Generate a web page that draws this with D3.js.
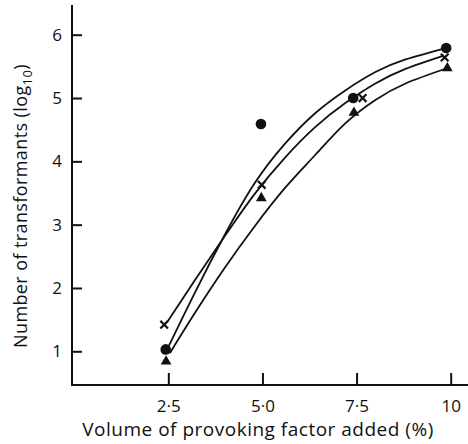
<!DOCTYPE html>
<html>
<head>
<meta charset="utf-8">
<script src="https://cdn.jsdelivr.net/npm/d3@7"></script>
<style>
  body { margin: 0; background: #fff; }
  svg { display: block; }
  text { font-family: "Open Sans", Lato, sans-serif; fill: #111; }
</style>
</head>
<body>
<div id="chart"></div>
<script>
var width = 468, height = 444;

/* x ticks and their printed labels */
var xTicks = [2.5, 5, 7.5, 10];
var xTickLabels = ["2·5", "5·0", "7·5", "10"];
var yTicks = [1, 2, 3, 4, 5, 6];

/* measured points */
var circleX = [2.43, 4.96, 7.41, 9.88];
var circleY = [1.03, 4.59, 5.0, 5.79];
var crossX = [2.39, 4.98, 7.66, 9.84];
var crossY = [1.42, 3.63, 5.0, 5.64];
var triX = [2.44, 4.97, 7.43, 9.91];
var triY = [0.84, 3.42, 4.77, 5.47];

/* fitted curves */
var circleFitX = [2.46, 3.2, 4.0, 4.8, 5.6, 6.4, 7.2, 8.0, 8.8, 9.88];
var circleFitY = [1.02, 1.92, 2.84, 3.66, 4.28, 4.76, 5.12, 5.41, 5.61, 5.79];
var crossFitX = [2.48, 3.2, 4.0, 4.8, 5.6, 6.4, 7.2, 8.0, 8.8, 9.82];
var crossFitY = [1.47, 2.12, 2.82, 3.49, 4.06, 4.54, 4.92, 5.23, 5.46, 5.67];
var triFitX = [2.54, 3.2, 4.0, 4.8, 5.6, 6.4, 7.2, 8.0, 8.8, 9.9];
var triFitY = [0.97, 1.60, 2.32, 2.98, 3.58, 4.10, 4.60, 4.97, 5.23, 5.47];

var svg = d3.select("#chart").append("svg")
    .attr("width", width)
    .attr("height", height);

var x = d3.scaleLinear().domain([0, 10]).range([74.2, 450.7]);
var y = d3.scaleLinear().domain([1, 6]).range([351.3, 34.7]);

var axisX = 72, axisY = 385;

/* axes lines */
svg.append("line")
    .attr("x1", axisX).attr("x2", axisX)
    .attr("y1", 5).attr("y2", axisY + 1)
    .attr("stroke", "#111").attr("stroke-width", 2);
svg.append("line")
    .attr("x1", axisX - 1).attr("x2", 468)
    .attr("y1", axisY).attr("y2", axisY)
    .attr("stroke", "#111").attr("stroke-width", 2);

/* x axis ticks (pointing up) */
var gx = svg.append("g")
    .attr("transform", "translate(0," + axisY + ")")
    .call(d3.axisBottom(x)
        .tickValues(xTicks)
        .tickSizeInner(-12)
        .tickSizeOuter(0)
        .tickPadding(15)
        .tickFormat(function (d, i) { return xTickLabels[i]; }));
gx.select(".domain").remove();
gx.selectAll(".tick line").attr("stroke", "#111").attr("stroke-width", 2);
gx.selectAll(".tick text")
    .attr("font-family", "'Open Sans', Lato, sans-serif")
    .attr("font-size", 17).attr("fill", "#111");

/* y axis ticks (pointing right) */
var gy = svg.append("g")
    .attr("transform", "translate(" + axisX + ",0)")
    .call(d3.axisLeft(y)
        .tickValues(yTicks)
        .tickSizeInner(-10)
        .tickSizeOuter(0)
        .tickPadding(10)
        .tickFormat(d3.format("d")));
gy.select(".domain").remove();
gy.selectAll(".tick line").attr("stroke", "#111").attr("stroke-width", 2);
gy.selectAll(".tick text")
    .attr("font-family", "'Open Sans', Lato, sans-serif")
    .attr("font-size", 17).attr("fill", "#111");

/* axis titles */
svg.append("text")
    .attr("x", 258).attr("y", 436)
    .attr("text-anchor", "middle")
    .attr("font-size", 19)
    .attr("letter-spacing", 0.5)
    .text("Volume of provoking factor added (%)");

var yt = svg.append("text")
    .attr("transform", "translate(27,206) rotate(-90)")
    .attr("text-anchor", "middle")
    .attr("font-size", 18)
    .attr("letter-spacing", 0.4);
yt.append("tspan").text("Number of transformants (log");
yt.append("tspan").attr("dy", 5).attr("font-size", 13).text("10");
yt.append("tspan").attr("dy", -5).text(")");

/* fitted curves */
var line = d3.line()
    .x(function (d) { return x(d[0]); })
    .y(function (d) { return y(d[1]); })
    .curve(d3.curveNatural);

[[circleFitX, circleFitY], [crossFitX, crossFitY], [triFitX, triFitY]].forEach(function (c) {
    svg.append("path")
        .datum(d3.zip(c[0], c[1]))
        .attr("fill", "none")
        .attr("stroke", "#111")
        .attr("stroke-width", 1.8)
        .attr("d", line);
});

/* markers */
svg.selectAll(".dot")
    .data(d3.zip(circleX, circleY))
    .join("circle")
    .attr("class", "dot")
    .attr("cx", function (d) { return x(d[0]); })
    .attr("cy", function (d) { return y(d[1]); })
    .attr("r", 5.3)
    .attr("fill", "#111");

var triSym = d3.symbol().type(d3.symbolTriangle).size(50);
svg.selectAll(".tri")
    .data(d3.zip(triX, triY))
    .join("path")
    .attr("class", "tri")
    .attr("transform", function (d) { return "translate(" + x(d[0]) + "," + y(d[1]) + ")"; })
    .attr("d", triSym)
    .attr("fill", "#111");

var crossSym = d3.symbol().type(d3.symbolX).size(40);
svg.selectAll(".cross")
    .data(d3.zip(crossX, crossY))
    .join("path")
    .attr("class", "cross")
    .attr("transform", function (d) { return "translate(" + x(d[0]) + "," + y(d[1]) + ")"; })
    .attr("d", crossSym)
    .attr("fill", "none")
    .attr("stroke", "#111")
    .attr("stroke-width", 2.2);
</script>
</body>
</html>
